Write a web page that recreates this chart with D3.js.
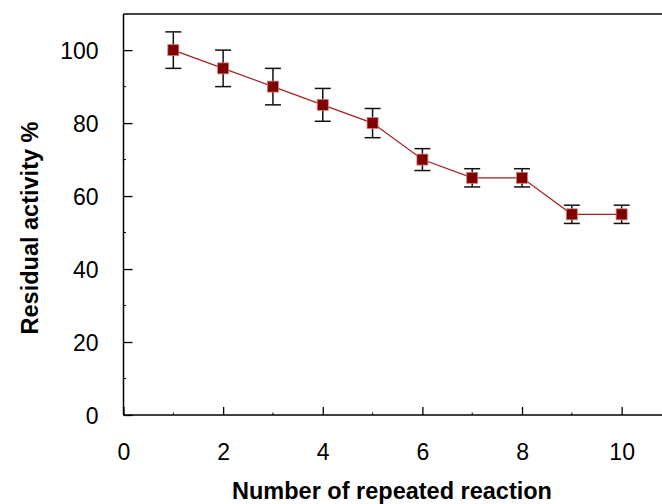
<!DOCTYPE html>
<html><head><meta charset="utf-8">
<script src="https://cdn.jsdelivr.net/npm/d3@7"></script>
<style>body{margin:0;background:#fff}svg{display:block}text{font-family:"Liberation Sans",Arial,sans-serif}</style>
</head><body><svg id="c" width="662" height="504"></svg>
<script>
const cycles = [1,2,3,4,5,6,7,8,9,10];
const activity = [100,95,90,85,80,70,65,65,55,55];
const errors = [5,5,5,4.5,4,3,2.5,2.5,2.5,2.5];
const xTicks = [0,2,4,6,8,10];
const xMinor = [1,3,5,7,9];
const yTicks = [0,20,40,60,80,100];
const yMinor = [10,30,50,70,90];

const svg = d3.select("#c");
const L = 123.5, R = 662, T = 14, B = 415;
const x = d3.scaleLinear().domain([0,10.81]).range([L,R]);
const y = d3.scaleLinear().domain([0,109.9]).range([B,T]);

// top frame line
svg.append("line").attr("x1",L).attr("x2",R).attr("y1",T).attr("y2",T)
  .attr("stroke","#444").attr("stroke-width",2);

// x axis
const gx = svg.append("g").attr("transform",`translate(0,${B})`);
gx.call(d3.axisBottom(x).tickValues(xTicks).tickSize(-8).tickPadding(0).tickFormat(d3.format("d")));
gx.select(".domain").attr("stroke","#000").attr("stroke-width",1.5).attr("d",`M${L},0H${R}`);
gx.selectAll(".tick line").attr("stroke","#000").attr("stroke-width",1.3);
gx.selectAll(".tick text").attr("font-size",23).attr("fill","#000").attr("y",45).attr("dy",0);
gx.selectAll(".minor").data(xMinor).enter().append("line")
  .attr("x1",d=>x(d)).attr("x2",d=>x(d)).attr("y1",0).attr("y2",-2.5).attr("stroke","#000");

// y axis
const gy = svg.append("g").attr("transform",`translate(${L},0)`);
gy.call(d3.axisLeft(y).tickValues(yTicks).tickSize(-9).tickPadding(0).tickFormat(d3.format("d")));
gy.select(".domain").attr("stroke","#000").attr("stroke-width",1.5).attr("d",`M0,${T}V${B}`);
gy.selectAll(".tick line").attr("stroke","#000").attr("stroke-width",1.3);
gy.selectAll(".tick text").attr("font-size",23).attr("fill","#000").attr("x",-25).attr("dy","0.36em");
gy.selectAll(".minor").data(yMinor).enter().append("line")
  .attr("y1",d=>y(d)).attr("y2",d=>y(d)).attr("x1",0).attr("x2",2.5).attr("stroke","#000");

// line
const pts = cycles.map((c,i)=>({c, v:activity[i], e:errors[i]}));
svg.append("path").datum(pts)
  .attr("fill","none").attr("stroke","#a52020").attr("stroke-width",1.2)
  .attr("d", d3.line().x(d=>x(d.c)).y(d=>y(d.v)));

// error bars
const eb = svg.append("g").attr("stroke","#111").attr("stroke-width",1.5);
pts.forEach(d=>{
  eb.append("line").attr("x1",x(d.c)).attr("x2",x(d.c)).attr("y1",y(d.v+d.e)).attr("y2",y(d.v-d.e));
  [d.v+d.e,d.v-d.e].forEach(v=>eb.append("line").attr("x1",x(d.c)-8).attr("x2",x(d.c)+8).attr("y1",y(v)).attr("y2",y(v)));
});

// markers
svg.append("g").selectAll("rect").data(pts).enter().append("rect")
  .attr("x",d=>x(d.c)-5.5).attr("y",d=>y(d.v)-5.5).attr("width",11).attr("height",11)
  .attr("fill","#800000").attr("stroke","#d08080").attr("stroke-width",0.8);

// titles
svg.append("text").attr("x",392).attr("y",499).attr("text-anchor","middle")
  .attr("font-size",23.5).attr("font-weight","bold").text("Number of repeated reaction");
svg.append("text").attr("transform","translate(38,228) rotate(-90)").attr("text-anchor","middle")
  .attr("font-size",23.5).attr("font-weight","bold").text("Residual activity %");
</script></body></html>
